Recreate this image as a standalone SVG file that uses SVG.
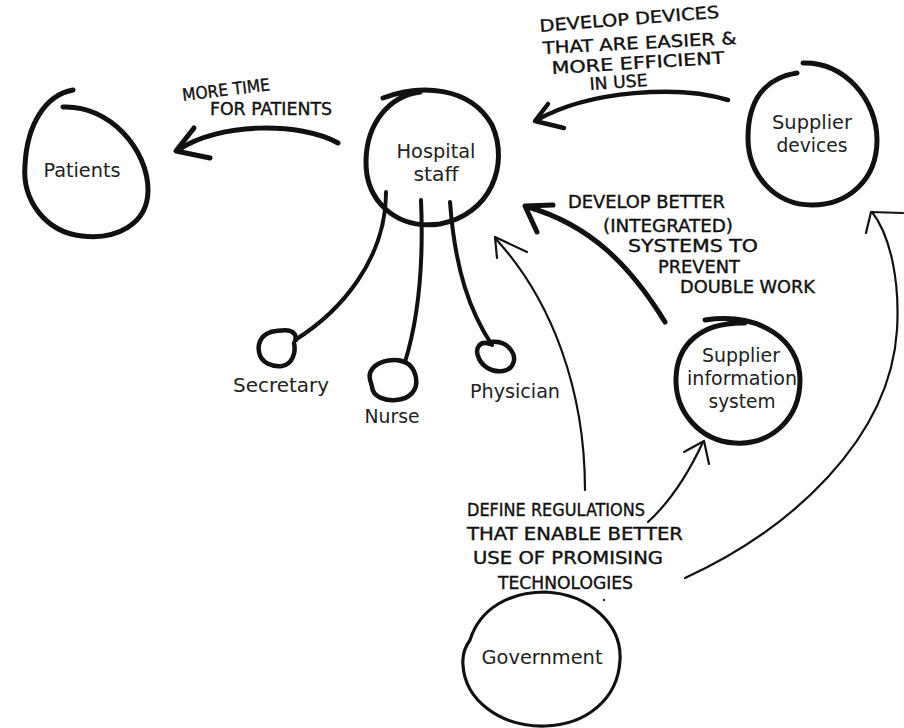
<svg xmlns="http://www.w3.org/2000/svg" width="904" height="728" viewBox="0 0 904 728">
  <style>
    .loop { fill: none; stroke: #111; stroke-width: 5; stroke-linecap: round; stroke-linejoin: round; }
    .leg { fill: none; stroke: #111; stroke-width: 4; stroke-linecap: round; }
    .small { fill: none; stroke: #111; stroke-width: 4.5; stroke-linecap: round; }
    .thick { fill: none; stroke: #111; stroke-width: 5; stroke-linecap: round; stroke-linejoin: round; }
    .thin { fill: none; stroke: #111; stroke-width: 2.2; stroke-linecap: round; stroke-linejoin: round; }
    .label { font-family: "DejaVu Sans Condensed", "DejaVu Sans", sans-serif; font-stretch: condensed; font-size: 20px; fill: #222; text-anchor: middle; }
    .hand { font-family: "DejaVu Sans Condensed", "DejaVu Sans", sans-serif; font-stretch: condensed; font-size: 17px; fill: #111; stroke: #111; stroke-width: 0.35; }
  </style>
  <rect width="904" height="728" fill="#fff"/>

  <g id="patients">
    <path class="loop" d="M63,107 C110,105 148,150 148,190 C148,225 115,240 82,236 C45,232 22,200 25,165 C27,125 45,95 73,90"/>
    <text class="label" x="82" y="177" textLength="77" lengthAdjust="spacingAndGlyphs">Patients</text>
  </g>

  <g id="hospital-staff">
    <path class="loop" d="M383,98 C420,84 470,86 492,125 C510,165 490,215 440,224 C395,230 365,200 366,160 C367,122 390,96 420,92"/>
    <text class="label" x="436" y="158" textLength="79" lengthAdjust="spacingAndGlyphs">Hospital</text>
    <text class="label" x="436" y="181" textLength="45" lengthAdjust="spacingAndGlyphs">staff</text>
  </g>

  <g id="secretary">
    <path class="leg" d="M386,192 C386,260 340,312 295,340"/>
    <path class="small" d="M296,340 C296,328 285,330 276,331 C263,332 257,342 259,352 C261,363 272,367 282,366 C293,364 296,352 294,343"/>
    <text class="label" x="281" y="392" textLength="96" lengthAdjust="spacingAndGlyphs">Secretary</text>
  </g>

  <g id="nurse">
    <path class="leg" d="M421,200 C424,270 418,320 405,362"/>
    <path class="small" d="M405,362 C396,358 380,360 373,368 C366,376 372,383 372,387 C373,397 385,401 396,400 C410,399 418,390 416,378 C414,367 408,362 400,361"/>
    <text class="label" x="392" y="423" textLength="55" lengthAdjust="spacingAndGlyphs">Nurse</text>
  </g>

  <g id="physician">
    <path class="leg" d="M450,202 C455,270 470,312 492,345"/>
    <path class="small" d="M490,344 C480,340 475,348 478,356 C481,366 492,373 503,371 C514,369 517,358 511,350 C506,343 498,341 490,342"/>
    <text class="label" x="515" y="398" textLength="90" lengthAdjust="spacingAndGlyphs">Physician</text>
  </g>

  <g id="supplier-devices">
    <path class="loop" d="M803,63 C845,62 877,100 877,140 C877,180 848,205 812,205 C775,205 748,175 748,138 C748,100 765,78 797,73"/>
    <text class="label" x="812" y="129" textLength="80" lengthAdjust="spacingAndGlyphs">Supplier</text>
    <text class="label" x="812" y="152" textLength="71" lengthAdjust="spacingAndGlyphs">devices</text>
  </g>

  <g id="supplier-information-system">
    <path class="loop" d="M705,320 C760,312 800,340 800,380 C800,420 770,445 735,443 C700,441 675,412 676,378 C677,345 700,322 745,323"/>
    <text class="label" x="741" y="362" textLength="78" lengthAdjust="spacingAndGlyphs">Supplier</text>
    <text class="label" x="742" y="385" textLength="110" lengthAdjust="spacingAndGlyphs">information</text>
    <text class="label" x="742" y="408" textLength="67" lengthAdjust="spacingAndGlyphs">system</text>
  </g>

  <g id="government">
    <path class="thin" style="stroke-width:3.2" d="M470,640 C480,608 510,592 545,592 C590,594 622,625 620,660 C618,700 585,725 545,726 C500,727 465,700 463,665 C462,655 465,647 470,640"/>
    <text class="label" x="542" y="664" textLength="121" lengthAdjust="spacingAndGlyphs">Government</text>
  </g>

  <g id="connectors">
    <!-- hospital staff to patients -->
    <path class="thick" d="M338,143 C300,122 220,122 178,150"/>
    <path class="thick" d="M194,128 L176,151 L210,158"/>
    <!-- supplier devices to hospital staff -->
    <path class="thick" style="stroke-width:4.5" d="M728,100 C680,85 590,90 537,120"/>
    <path class="thick" style="stroke-width:4.5" d="M548,104 L535,121 L564,128"/>
    <!-- supplier information system to hospital staff -->
    <path class="thick" d="M665,322 C630,265 590,225 528,207"/>
    <path class="thick" d="M553,205 L525,206 L537,232"/>
    <!-- government to hospital staff -->
    <path class="thin" d="M585,490 C585,390 552,300 495,238"/>
    <path class="thin" d="M527,252 L495,237 L497,258"/>
    <!-- government to supplier information system -->
    <path class="thin" d="M648,522 C672,500 690,470 703,442"/>
    <path class="thin" d="M684,452 L704,441 L709,464"/>
    <!-- government to supplier devices -->
    <path class="thin" d="M685,578 C790,530 890,440 897,330 C900,280 890,235 872,212"/>
    <path class="thin" d="M903,213 L871,212 L866,233"/>
    <circle cx="604" cy="600" r="1.2" fill="#333"/>
  </g>

  <g id="notes">
    <text class="hand" transform="rotate(-7 183 101)" x="183" y="101" textLength="88" lengthAdjust="spacingAndGlyphs">MORE TIME</text>
    <text class="hand" x="210" y="115" textLength="122" lengthAdjust="spacingAndGlyphs">FOR PATIENTS</text>

    <text class="hand" transform="rotate(-4.5 540 32)" x="540" y="32" textLength="180" lengthAdjust="spacingAndGlyphs">DEVELOP  DEVICES</text>
    <text class="hand" transform="rotate(-3 543 54)" x="543" y="54" textLength="194" lengthAdjust="spacingAndGlyphs">THAT ARE EASIER &amp;</text>
    <text class="hand" transform="rotate(-3.5 552 74)" x="552" y="74" textLength="173" lengthAdjust="spacingAndGlyphs">MORE EFFICIENT</text>
    <text class="hand" transform="rotate(-4 590 90)" x="590" y="90" textLength="58" lengthAdjust="spacingAndGlyphs">IN USE</text>

    <text class="hand" x="568" y="208" textLength="157" lengthAdjust="spacingAndGlyphs">DEVELOP BETTER</text>
    <text class="hand" x="603" y="232" textLength="130" lengthAdjust="spacingAndGlyphs">(INTEGRATED)</text>
    <text class="hand" x="628" y="252" textLength="130" lengthAdjust="spacingAndGlyphs">SYSTEMS TO</text>
    <text class="hand" x="658" y="273" textLength="82" lengthAdjust="spacingAndGlyphs">PREVENT</text>
    <text class="hand" x="680" y="293" textLength="135" lengthAdjust="spacingAndGlyphs">DOUBLE WORK</text>

    <text class="hand" x="467" y="516" textLength="178" lengthAdjust="spacingAndGlyphs">DEFINE REGULATIONS</text>
    <text class="hand" x="467" y="540" textLength="216" lengthAdjust="spacingAndGlyphs">THAT ENABLE BETTER</text>
    <text class="hand" x="473" y="564" textLength="190" lengthAdjust="spacingAndGlyphs">USE OF PROMISING</text>
    <text class="hand" x="498" y="589" textLength="135" lengthAdjust="spacingAndGlyphs">TECHNOLOGIES</text>
  </g>
</svg>
